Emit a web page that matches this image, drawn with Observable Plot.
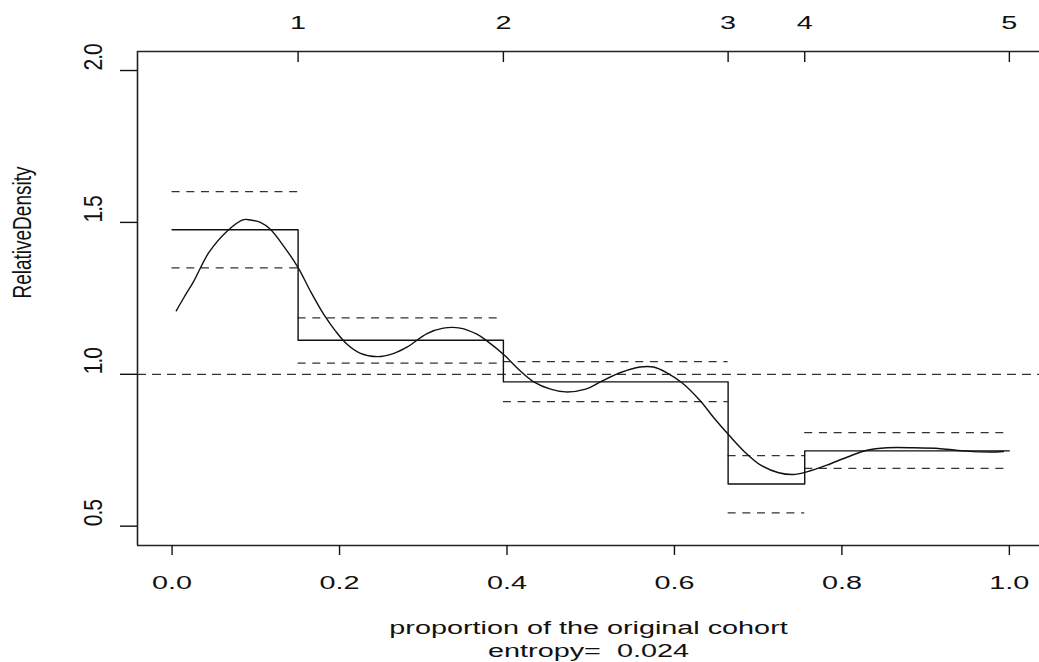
<!DOCTYPE html>
<html>
<head>
<meta charset="utf-8">
<script src="https://cdn.jsdelivr.net/npm/d3@7"></script>
<script src="https://cdn.jsdelivr.net/npm/@observablehq/plot@0.6"></script>
<style>
  html, body { margin: 0; padding: 0; background: #fff; overflow: hidden; }
</style>
</head>
<body>
<div id="chart"></div>
<script>
// Scale extents (a little padding beyond the data range, as in base graphics)
const xDomain = [-0.0413, 1.036];
const yDomain = [0.4364, 2.0626];

// Axis ticks
const xTicks = [0, 0.2, 0.4, 0.6, 0.8, 1.0];
const yTicks = [0.5, 1.0, 1.5, 2.0];
const yTickLabels = ["0.5", "1.0", "1.5", "2.0"];

// Quantile cut points of the reference group (top axis)
const quantilePos = [0.1505, 0.3957, 0.6641, 0.7556, 1.0];
const quantileLabels = ["1", "2", "3", "4", "5"];

// Histogram bins of relative density with pointwise bands
const binLo = [0, 0.1505, 0.3957, 0.6641, 0.7556];
const binHi = [0.1505, 0.3957, 0.6641, 0.7556, 1.0];
const binDensity = [1.476, 1.112, 0.975, 0.639, 0.748];
const binUpper = [1.601, 1.186, 1.042, 0.732, 0.808];
const binLower = [1.350, 1.037, 0.910, 0.544, 0.690];

// Smoothed relative density
const smoothX = [0.005, 0.014, 0.026, 0.044, 0.066, 0.0855, 0.0935, 0.1055, 0.117, 0.133,
  0.151, 0.165, 0.181, 0.195, 0.209, 0.225, 0.245, 0.265, 0.281, 0.3045,
  0.324, 0.344, 0.364, 0.376, 0.398, 0.414, 0.432, 0.452, 0.470, 0.494,
  0.5115, 0.535, 0.559, 0.575, 0.591, 0.609, 0.631, 0.647, 0.665, 0.683,
  0.703, 0.7245, 0.742, 0.758, 0.782, 0.806, 0.830, 0.854, 0.886, 0.918,
  0.949, 0.977, 0.993];
const smoothY = [1.209, 1.252, 1.307, 1.401, 1.472, 1.509, 1.508, 1.500, 1.478, 1.423,
  1.349, 1.275, 1.198, 1.143, 1.099, 1.069, 1.058, 1.069, 1.090, 1.134,
  1.152, 1.152, 1.132, 1.110, 1.060, 1.016, 0.975, 0.951, 0.942, 0.951,
  0.975, 1.005, 1.024, 1.024, 1.005, 0.972, 0.912, 0.857, 0.800, 0.747,
  0.701, 0.676, 0.670, 0.679, 0.701, 0.727, 0.750, 0.758, 0.758, 0.755,
  0.747, 0.744, 0.746];

const referenceLevel = 1;
const yLabel = "RelativeDensity";
const xLabel = "proportion of the original cohort";
const entropyLabel = "entropy=\u00a0 0.024";

const bins = binLo.map((lo, i) => ({lo, hi: binHi[i], upper: binUpper[i], lower: binLower[i]}));
const steps = binLo.map((x, i) => ({x, y: binDensity[i]}))
  .concat([{x: binHi[binHi.length - 1], y: binDensity[binDensity.length - 1]}]);
const smooth = smoothX.map((x, i) => ({x, y: smoothY[i]}));

const ink = "#111";
const dashInk = "#333";

const chart = Plot.plot({
  width: 1039,
  height: 662,
  marginLeft: 137,
  marginRight: 0,
  marginTop: 51,
  marginBottom: 117,
  style: {fontFamily: "'Liberation Sans', Arial, sans-serif", fontSize: "18px", color: "#111", background: "#fff"},
  x: {domain: xDomain},
  y: {domain: yDomain},
  marks: [
    Plot.ruleY([referenceLevel], {stroke: dashInk, strokeWidth: 1.2, strokeDasharray: "9,6"}),
    Plot.ruleY(bins, {y: "upper", x1: "lo", x2: "hi", stroke: dashInk, strokeWidth: 1.2, strokeDasharray: "8,6.7"}),
    Plot.ruleY(bins, {y: "lower", x1: "lo", x2: "hi", stroke: dashInk, strokeWidth: 1.2, strokeDasharray: "8,6.7"}),
    Plot.line(steps, {x: "x", y: "y", curve: "step-after", stroke: ink, strokeWidth: 1.4}),
    Plot.line(smooth, {x: "x", y: "y", curve: "catmull-rom", stroke: ink, strokeWidth: 1.4}),
    // axis lines: left, bottom, top
    Plot.ruleX([xDomain[0]], {stroke: "#222", strokeWidth: 1.6}),
    Plot.ruleY([yDomain[0], yDomain[1]], {stroke: "#222", strokeWidth: 1.6}),
    Plot.axisX(xTicks, {anchor: "bottom", tickSize: 10, tickPadding: 21, tickFormat: d3.format(".1f"), label: null, strokeWidth: 1.4}),
    Plot.axisX(quantilePos, {anchor: "top", tickSize: -10, tickPadding: 33,
      tickFormat: d => quantileLabels[quantilePos.indexOf(d)], label: null, strokeWidth: 1.4}),
    Plot.axisY(yTicks, {anchor: "left", tickSize: 17, tickFormat: () => "", label: null, strokeWidth: 1.4}),
    Plot.text(yTicks, {y: d => d, text: (d, i) => yTickLabels[i], frameAnchor: "left", dx: -44,
      rotate: -90, fontSize: 21, lineAnchor: "middle", fill: ink}),
    Plot.text([yLabel], {frameAnchor: "left", dx: -115, rotate: -90, fontSize: 19, lineAnchor: "middle", fill: ink}),
    Plot.text([xLabel], {frameAnchor: "bottom", dy: 88, lineAnchor: "bottom", fill: ink}),
    Plot.text([entropyLabel], {frameAnchor: "bottom", dy: 111, lineAnchor: "bottom", fill: ink})
  ]
});

// Widen the horizontal lettering; thicken the rotated lettering across its height
d3.select(chart).selectAll("text").each(function () {
  const t = this.getAttribute("transform") || "";
  if (t.includes("rotate")) {
    if (this.textContent.length <= 3) {
      this.style.letterSpacing = "-1px";
      this.setAttribute("transform", t + " scale(1,1.25)");
    } else {
      this.setAttribute("transform", t + " scale(1,1.35)");
    }
  } else {
    this.setAttribute("transform", t + " scale(1.6,1)");
  }
});

document.getElementById("chart").appendChild(chart);
</script>
</body>
</html>
